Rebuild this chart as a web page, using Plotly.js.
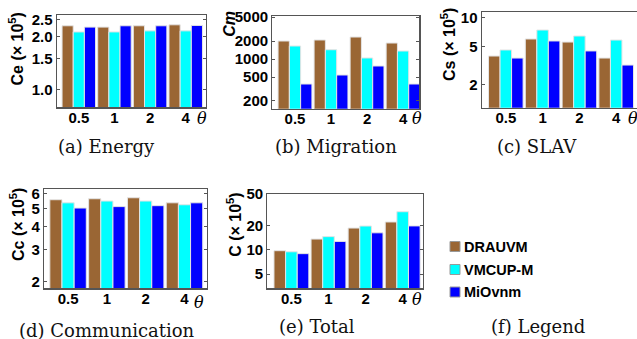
<!DOCTYPE html>
<html>
<head>
<meta charset="utf-8">
<script src="https://cdn.plot.ly/plotly-3.0.1.min.js"></script>
<style>html,body{margin:0;padding:0;background:#fff;}#chart{width:637px;height:339px;}</style>
</head>
<body>
<div id="chart"></div>
<script>
// ---- data ----
const categories = ['0.5', '1', '2', '4'];
const seriesNames = ['DRAUVM', 'VMCUP-M', 'MiOvnm'];

const energyDRAUVM = [2.31, 2.27, 2.31, 2.34];
const energyVMCUP  = [2.13, 2.13, 2.16, 2.16];
const energyMiOvnm = [2.27, 2.31, 2.31, 2.32];

const migrationDRAUVM = [2000, 2080, 2330, 1850];
const migrationVMCUP  = [1650, 1430, 1040, 1360];
const migrationMiOvnm = [382, 540, 764, 382];

const slavDRAUVM = [3.97, 6.0, 5.57, 3.78];
const slavVMCUP  = [4.6, 7.46, 6.45, 5.85];
const slavMiOvnm = [3.78, 5.72, 4.49, 3.19];

const commDRAUVM = [5.58, 5.65, 5.72, 5.37];
const commVMCUP  = [5.37, 5.49, 5.49, 5.24];
const commMiOvnm = [5.03, 5.12, 5.18, 5.37];

const totalDRAUVM = [9.8, 13.7, 18.8, 22.4];
const totalVMCUP  = [9.5, 14.7, 19.95, 30.1];
const totalMiOvnm = [9.0, 12.8, 16.4, 20.0];

const energyTicks = [1.0, 1.5, 2.0, 2.5];
const energyTickText = ['1.0', '1.5', '2.0', '2.5'];
const migrationTicks = [200, 500, 1000, 2000, 5000];
const slavTicks = [2, 5, 10];
const commTicks = [2, 3, 4, 5, 6];
const totalTicks = [5, 10, 20, 50];

// ---- styling ----
const W = 637, H = 339;
const colors = ['#9a6634', '#00ffff', '#0000ff'];
const px = x => x / W;
const py = y => 1 - y / H;
const sans = 'Liberation Sans, Arial, sans-serif';
const serif = 'DejaVu Serif, serif';
const bold = s => '<b>' + s + '</b>';

const panels = [
  {id: '', data: [energyDRAUVM, energyVMCUP, energyMiOvnm], ticks: energyTicks, tickText: energyTickText,
   xd: [56.7, 205.7], yd: [107.3, 14.7], xr: [-0.62, 3.56], yr: [-0.103, 0.427]},
  {id: '2', data: [migrationDRAUVM, migrationVMCUP, migrationMiOvnm], ticks: migrationTicks,
   xd: [272.3, 419.3], yd: [108.7, 15.7], xr: [-0.63, 3.45], yr: [2.169, 3.724]},
  {id: '3', data: [slavDRAUVM, slavVMCUP, slavMiOvnm], ticks: slavTicks,
   xd: [481.7, 637], yd: [107.7, 12.3], xr: [-0.655, 3.565], yr: [0.055, 1.059], noRight: true},
  {id: '4', data: [commDRAUVM, commVMCUP, commMiOvnm], ticks: commTicks,
   xd: [44, 207], yd: [288.3, 189], xr: [-0.62, 3.58], yr: [0.265, 0.805]},
  {id: '5', data: [totalDRAUVM, totalVMCUP, totalMiOvnm], ticks: totalTicks,
   xd: [267.3, 422.7], yd: [288.3, 194], xr: [-0.65, 3.54], yr: [0.521, 1.70]}
];

const traces = [];
const layout = {
  width: W, height: H,
  margin: {l: 0, r: 0, t: 0, b: 0},
  paper_bgcolor: '#fff', plot_bgcolor: '#fff',
  showlegend: false,
  barmode: 'group', bargap: 0.06, bargroupgap: 0,
  annotations: [], shapes: []
};

panels.forEach(p => {
  p.data.forEach((vals, i) => {
    traces.push({
      type: 'bar', x: categories, y: vals, name: seriesNames[i],
      xaxis: 'x' + p.id, yaxis: 'y' + p.id,
      marker: {color: colors[i], line: {color: '#e4e4e4', width: 1}},
      hoverinfo: 'skip'
    });
  });
  layout['xaxis' + p.id] = {
    domain: [px(p.xd[0]), px(p.xd[1])], anchor: 'y' + p.id,
    type: 'category', range: p.xr,
    tickvals: categories, ticktext: categories.map(bold),
    showline: true, linecolor: '#555', linewidth: 1.2, mirror: true,
    ticks: '', showgrid: false, zeroline: false, ticklabelstandoff: -4,
    tickfont: {family: sans, size: 15, color: '#000', weight: 'bold'}
  };
  layout['yaxis' + p.id] = {
    domain: [py(p.yd[0]), py(p.yd[1])], anchor: 'x' + p.id,
    type: 'log', range: p.yr,
    tickvals: p.ticks, ticktext: (p.tickText || p.ticks.map(String)).map(bold),
    showline: true, linecolor: '#555', linewidth: 1.2,
    mirror: p.noRight ? false : 'allticks',
    ticks: 'inside', ticklen: 3, tickcolor: '#555',
    showgrid: false, zeroline: false,
    tickfont: {family: sans, size: 15, color: '#000', weight: 'bold'}
  };
});

// theta labels
[[202, 118], [417, 118], [633, 118], [199.3, 302.7], [417.3, 299]].forEach(([x, y]) => {
  layout.annotations.push({xref: 'paper', yref: 'paper', x: px(x), y: py(y),
    text: '<i>θ</i>', showarrow: false, xanchor: 'center', yanchor: 'middle',
    font: {family: serif, size: 16, color: '#000'}});
});

// y-axis titles
const yTitles = [
  ['Ce (× 10<sup>5</sup>)', 16.5, 49, false],
  ['Cm', 228.7, 24, true],
  ['Cs (× 10<sup>5</sup>)', 448, 45, false],
  ['Cc (× 10<sup>5</sup>)', 17, 225, false],
  ['C (× 10<sup>5</sup>)', 233.8, 225, false]
];
yTitles.forEach(([t, x, y, it]) => {
  layout.annotations.push({xref: 'paper', yref: 'paper', x: px(x), y: py(y),
    text: bold(it ? '<i>' + t + '</i>' : t), showarrow: false, textangle: -90,
    xanchor: 'center', yanchor: 'middle',
    font: {family: sans, size: 16, color: '#000', weight: 'bold'}});
});

// subtitles
const subtitles = [
  ['(a) Energy', 106.7, 146.7], ['(b) Migration', 336, 146.7], ['(c) SLAV', 537, 146],
  ['(d) Communication', 107.3, 330], ['(e) Total', 317.3, 326.7], ['(f) Legend', 538.3, 326]
];
subtitles.forEach(([t, x, y]) => {
  layout.annotations.push({xref: 'paper', yref: 'paper', x: px(x), y: py(y),
    text: t, showarrow: false, xanchor: 'center', yanchor: 'middle',
    font: {family: serif, size: 18, color: '#111'}});
});

// legend panel
const legendY = [246.5, 269.5, 292];
seriesNames.forEach((name, i) => {
  layout.shapes.push({type: 'rect', xref: 'paper', yref: 'paper',
    x0: px(450), x1: px(460), y0: py(legendY[i] + 5), y1: py(legendY[i] - 5),
    fillcolor: colors[i], line: {color: '#999', width: 1}});
  layout.annotations.push({xref: 'paper', yref: 'paper', x: px(461.5), y: py(legendY[i]),
    text: bold(name), showarrow: false, xanchor: 'left', yanchor: 'middle',
    font: {family: sans, size: 14.5, color: '#000', weight: 'bold'}});
});

Plotly.newPlot('chart', traces, layout, {staticPlot: true, displayModeBar: false});
</script>
</body>
</html>
